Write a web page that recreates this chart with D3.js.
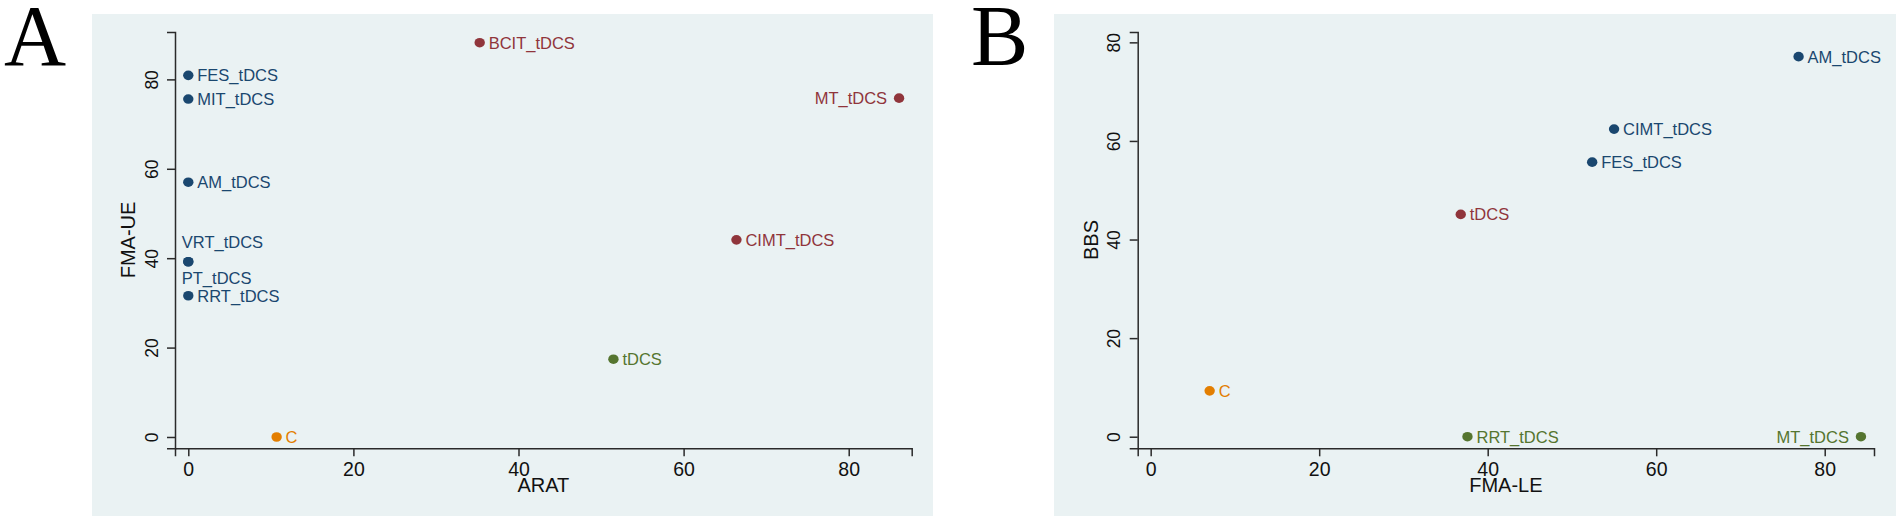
<!DOCTYPE html>
<html><head><meta charset="utf-8">
<script src="https://cdn.jsdelivr.net/npm/d3@7"></script>
<style>html,body{margin:0;padding:0;background:#fff;}svg{display:block;}</style>
</head><body>
<script>
// ---- Panel A data ----
const aNames  = ["FES_tDCS","MIT_tDCS","AM_tDCS","VRT_tDCS","PT_tDCS","RRT_tDCS","BCIT_tDCS","MT_tDCS","CIMT_tDCS","tDCS","C"];
const aARAT   = [0, 0, 0, 0, 0, 0, 35.3, 86.1, 66.4, 51.5, 10.7];
const aFMAUE  = [80.9, 75.6, 57.0, 39.2, 39.2, 31.6, 88.2, 75.8, 44.1, 17.4, 0];
const aGroup  = ["navy","navy","navy","navy","navy","navy","maroon","maroon","maroon","green","orange"];
const aPos    = [3,3,3,12,6,3,3,9,3,3,3];
// ---- Panel B data ----
const bNames  = ["AM_tDCS","CIMT_tDCS","FES_tDCS","tDCS","C","RRT_tDCS","MT_tDCS"];
const bFMALE  = [76.9, 55.0, 52.4, 36.8, 7.0, 37.6, 84.3];
const bBBS    = [77.1, 62.4, 55.7, 45.1, 9.3, 0, 0];
const bGroup  = ["navy","navy","navy","maroon","orange","green","green"];
const bPos    = [3,3,3,3,3,3,9];
// ---- ticks ----
const xTicks = [0,20,40,60,80];
const yTicks = [0,20,40,60,80];

const colors = {navy:"#1a476f", maroon:"#90353b", green:"#55752f", orange:"#e37e00"};
const W = 1902, H = 523;
const svg = d3.select("body").append("svg").attr("width", W).attr("height", H);

function panel(cfg){
  const g = svg.append("g");
  g.append("rect").attr("x", cfg.bg[0]).attr("y", 14).attr("width", cfg.bg[1]-cfg.bg[0]).attr("height", 502).attr("fill", "#eaf2f3");
  g.append("text").attr("x", cfg.letterX).attr("y", 65).attr("font-family", "Liberation Serif, Times New Roman, serif")
    .attr("font-size", 86).attr("fill", "#000").text(cfg.letter);
  const x = d3.scaleLinear().domain(cfg.xDom).range(cfg.xRange);
  const y = d3.scaleLinear().domain(cfg.yDom).range([448.3, 32]);
  const font = "Liberation Sans, Arial, sans-serif";
  // x axis
  const xa = g.append("g").attr("transform", "translate(0,448.3)")
    .call(d3.axisBottom(x).tickValues(xTicks).tickSizeOuter(0).tickSize(8).tickPadding(6));
  xa.selectAll("text").attr("font-size", 19.5).attr("font-family", font).attr("fill", "#111").attr("dy", "0.71em");
  // y axis
  const ya = g.append("g").attr("transform", `translate(${cfg.xRange[0]},0)`)
    .call(d3.axisLeft(y).tickValues(yTicks).tickSizeOuter(0).tickSize(8));
  ya.selectAll(".tick text").attr("x", null).attr("dy", null)
    .attr("transform", "rotate(-90)").attr("text-anchor", "middle")
    .attr("y", -17.5).attr("x", 0)
    .attr("font-size", 17.5).attr("font-family", font).attr("fill", "#111");
  [xa, ya].forEach(a => { a.selectAll("path,line").attr("stroke", "#2a2a2a").attr("stroke-width", 1.5); });
  // axis titles
  const xc = (cfg.xRange[0]+cfg.xRange[1])/2;
  g.append("text").attr("x", xc).attr("y", 492).attr("text-anchor", "middle")
    .attr("font-family", font).attr("font-size", 20).attr("fill", "#111").text(cfg.xTitle);
  g.append("text").attr("transform", `translate(${cfg.xRange[0]-40},240) rotate(-90)`).attr("text-anchor", "middle")
    .attr("font-family", font).attr("font-size", 20).attr("fill", "#111").text(cfg.yTitle);
  // points
  const data = cfg.names.map((n,i)=>({n, xv:cfg.xs[i], yv:cfg.ys[i], c:colors[cfg.grp[i]], p:cfg.pos[i]}));
  const pts = g.append("g");
  pts.selectAll("ellipse").data(data).join("ellipse")
    .attr("cx", d=>x(d.xv)).attr("cy", d=>y(d.yv)).attr("rx", 5.2).attr("ry", 4.8).attr("fill", d=>d.c);
  pts.selectAll("text").data(data).join("text")
    .attr("font-family", font).attr("font-size", 16.5).attr("fill", d=>d.c)
    .attr("x", d => d.p===3 ? x(d.xv)+9 : d.p===9 ? x(d.xv)-12 : x(d.xv)-6.5)
    .attr("y", d => d.p===12 ? y(d.yv)-13.5 : d.p===6 ? y(d.yv)+22.5 : y(d.yv)+6)
    .attr("text-anchor", d => d.p===9 ? "end" : "start")
    .text(d=>d.n);
}

panel({bg:[92,933], letter:"A", letterX:4, xDom:[-1.61, 87.63], xRange:[175, 911.7], yDom:[-2.53, 90.6],
  xTitle:"ARAT", yTitle:"FMA-UE", names:aNames, xs:aARAT, ys:aFMAUE, grp:aGroup, pos:aPos});
panel({bg:[1054,1896], letter:"B", letterX:971, xDom:[-1.54, 85.85], xRange:[1137.7, 1874], yDom:[-2.35, 82.1],
  xTitle:"FMA-LE", yTitle:"BBS", names:bNames, xs:bFMALE, ys:bBBS, grp:bGroup, pos:bPos});
</script>
</body></html>
